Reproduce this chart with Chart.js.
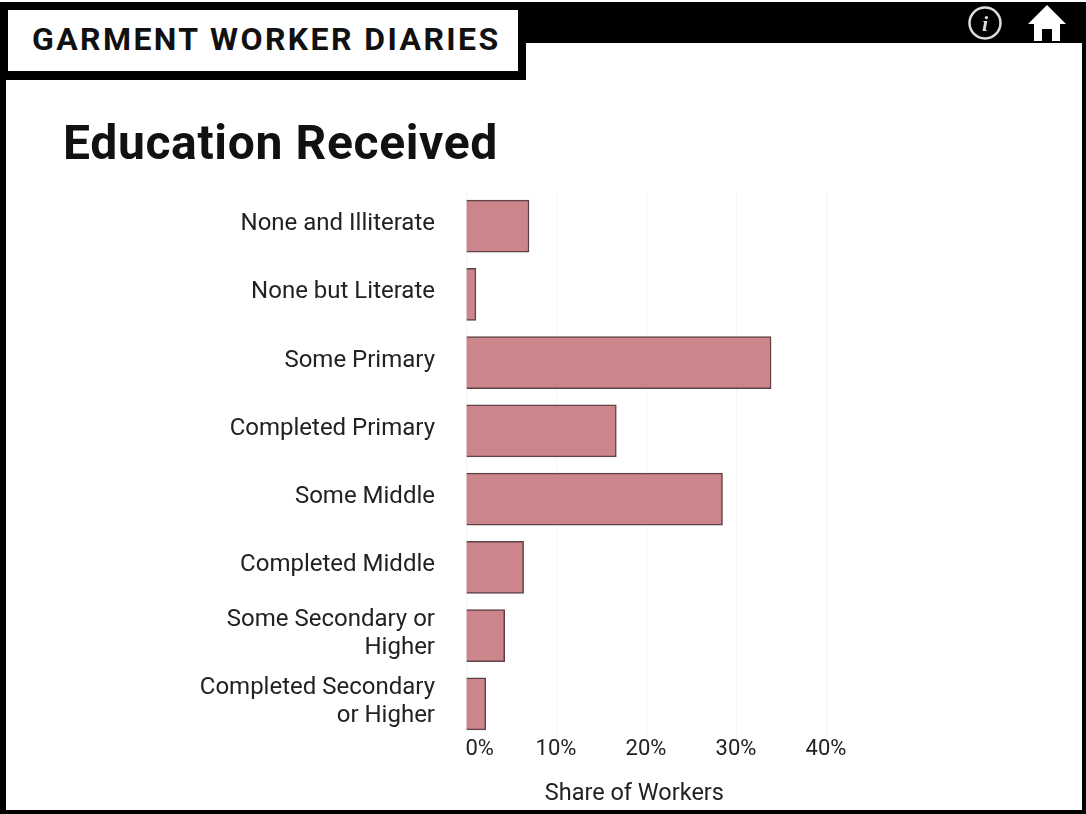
<!DOCTYPE html>
<html><head><meta charset="utf-8">
<script src="https://cdn.jsdelivr.net/npm/chart.js@4"></script>
<style>
html,body{margin:0;padding:0;background:#fff;width:1086px;height:814px;overflow:hidden}
#wrap{position:relative;width:1086px;height:814px;font-family:Roboto,sans-serif}
canvas{position:absolute;left:0;top:0}
.frame{position:absolute;background:#000}
#hdr{position:absolute;left:8px;top:10px;width:510px;height:61px;background:#fff;color:#111;font:700 32px/59px Roboto,sans-serif;letter-spacing:2.4px;white-space:nowrap;text-indent:24px}
#ttl{position:absolute;left:63px;top:114px;color:#111;font:700 48px/58px Roboto,sans-serif;letter-spacing:.65px;white-space:nowrap}
svg{position:absolute;left:0;top:0}
</style></head><body>
<div id="wrap">
<canvas id="c" width="1086" height="814"></canvas>
<div class="frame" style="left:0;top:2px;width:1086px;height:41px"></div>
<div class="frame" style="left:0;top:2px;width:526px;height:78px"></div>
<div class="frame" style="left:0;top:2px;width:6px;height:812px"></div>
<div class="frame" style="left:1082px;top:2px;width:4px;height:812px"></div>
<div class="frame" style="left:0;top:810px;width:1086px;height:4px"></div>
<div id="hdr">GARMENT WORKER DIARIES</div>
<div id="ttl">Education Received</div>
<svg width="1086" height="60">
<circle cx="985" cy="23" r="15.5" fill="none" stroke="#ddd" stroke-width="2.5"/>
<text x="985" y="31" text-anchor="middle" fill="#ddd" font-family="Liberation Serif" font-style="italic" font-weight="700" font-size="22">i</text>
<path d="M1047 5 L1066 24 L1060 24 L1060 41 L1052 41 L1052 29 L1042 29 L1042 41 L1034 41 L1034 24 L1028 24 Z" fill="#fff"/>
</svg>
</div>
<script>
const categories=[["None and Illiterate"],["None but Literate"],["Some Primary"],["Completed Primary"],["Some Middle"],["Completed Middle"],["Some Secondary or","Higher"],["Completed Secondary","or Higher"]];
const shares=[7.0,1.1,33.9,16.7,28.5,6.4,4.3,2.2];
const xTicks=[0,10,20,30,40];
const axisTitle="Share of Workers    ";
const ink="#222";
new Chart(document.getElementById("c"),{
 type:"bar",
 data:{labels:categories,datasets:[{data:shares,backgroundColor:"#cb858b",borderColor:"#5e4246",borderWidth:1.5,barThickness:52}]},
 options:{
  indexAxis:"y",responsive:false,animation:false,
  layout:{padding:{left:0,right:260,top:192,bottom:0}},
  plugins:{legend:{display:false},tooltip:{enabled:false}},
  scales:{
   x:{min:0,max:40,afterBuildTicks(a){a.ticks=xTicks.map(v=>({value:v}))},
      grid:{color:"#f4f4f4",drawTicks:false},border:{display:false},
      ticks:{color:ink,font:{family:"Roboto",size:22},padding:-2,maxRotation:0,callback:v=>(v===0?"     ":"")+v+"%"},
      title:{display:true,text:axisTitle,color:ink,font:{family:"Roboto",size:23.5},padding:{top:0,bottom:6}},
      afterFit(a){a.height=76}},
   y:{grid:{display:false},border:{display:false},
      ticks:{color:ink,font:{family:"Roboto",size:24,lineHeight:1.17},padding:23,labelOffset:-2,crossAlign:"near",autoSkip:false},
      afterFit(a){a.width=466}}
  }
 }
});
</script>
</body></html>
